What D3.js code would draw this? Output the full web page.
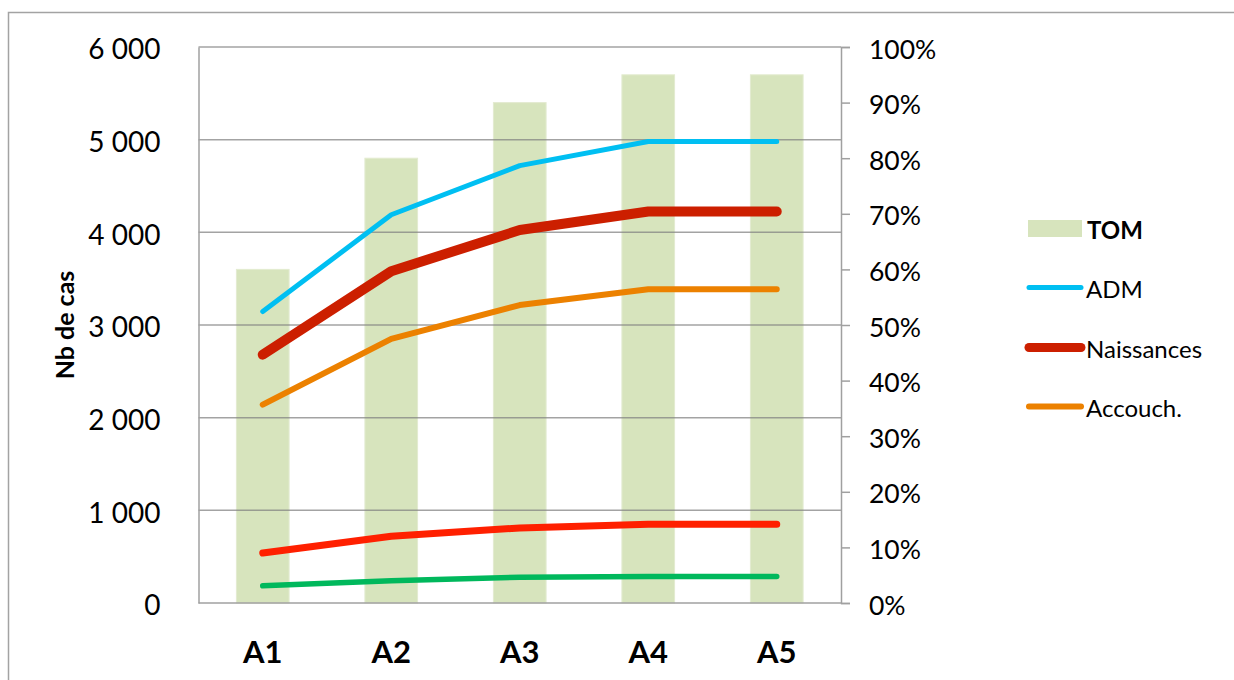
<!DOCTYPE html>
<html>
<head>
<meta charset="utf-8">
<script src="https://cdn.jsdelivr.net/npm/d3@7/dist/d3.min.js"></script>
<style>
  html, body { margin: 0; padding: 0; background: #fff; }
  svg { display: block; font-family: Lato, "Open Sans", sans-serif; }
</style>
</head>
<body>
<svg id="chart" width="1234" height="680"></svg>
<script>
// Categories and series
const categories = ["A1", "A2", "A3", "A4", "A5"];
const tomValues = [3600, 4800, 5400, 5700, 5700];
const admValues = [3145, 4190, 4720, 4980, 4980];
const naissancesValues = [2680, 3580, 4025, 4225, 4225];
const accouchValues = [2140, 2850, 3215, 3385, 3385];
const redValues = [540, 720, 810, 850, 850];
const greenValues = [185, 240, 278, 285, 285];

const leftTicks = [0, 1000, 2000, 3000, 4000, 5000, 6000];
const rightTicks = [0, 0.1, 0.2, 0.3, 0.4, 0.5, 0.6, 0.7, 0.8, 0.9, 1.0];

const lineSeries = [
  { name: "Vert", values: greenValues, color: "#00b85c", width: 5.5, legend: false },
  { name: "Rouge", values: redValues, color: "#ff2000", width: 7, legend: false },
  { name: "Accouch.", values: accouchValues, color: "#ec8100", width: 6, legend: true },
  { name: "Naissances", values: naissancesValues, color: "#cc1f00", width: 10, legend: true },
  { name: "ADM", values: admValues, color: "#00bff2", width: 5, legend: true }
];

const svg = d3.select("#chart");

const plot = { left: 198.5, right: 841, top: 47, bottom: 603 };

const x = d3.scaleBand().domain(categories).range([plot.left, plot.right]).paddingInner(0.59).paddingOuter(0.295);
const xc = d => x(d) + x.bandwidth() / 2;
const y = d3.scaleLinear().domain([0, 6000]).range([plot.bottom, plot.top]);
const y2 = d3.scaleLinear().domain([0, 1]).range([plot.bottom, plot.top]);

// Outer chart frame
svg.append("rect")
  .attr("x", 8.5).attr("y", 12.5)
  .attr("width", 1300).attr("height", 700)
  .attr("fill", "none").attr("stroke", "#a3a3a3").attr("stroke-width", 1.5);

// Bars (TOM)
svg.append("g").selectAll("rect")
  .data(categories.map((c, i) => ({ c, v: tomValues[i] })))
  .join("rect")
  .attr("x", d => x(d.c))
  .attr("y", d => y(d.v))
  .attr("width", x.bandwidth())
  .attr("height", d => y(0) - y(d.v))
  .attr("fill", "#d7e4bd")
  .attr("stroke", "#e3ebd0")
  .attr("stroke-width", 1);

// Horizontal gridlines
svg.append("g").selectAll("line")
  .data(leftTicks.slice(1))
  .join("line")
  .attr("x1", plot.left).attr("x2", plot.right)
  .attr("y1", d => y(d)).attr("y2", d => y(d))
  .attr("stroke", "#808080").attr("stroke-opacity", 0.72).attr("stroke-width", 1.5);

// Left axis (labels only)
const leftAxis = svg.append("g")
  .attr("transform", `translate(${plot.left},0)`)
  .call(d3.axisLeft(y).tickValues(leftTicks).tickSize(0).tickPadding(38)
    .tickFormat(d => d3.format(",")(d).replace(/,/g, " ")));
leftAxis.select(".domain").attr("stroke", "#a0a0a0").attr("stroke-width", 1.5);
leftAxis.selectAll("text")
  .attr("font-family", "Lato, sans-serif").attr("font-size", 28).attr("fill", "#000").attr("dy", "0.42em");

// Bottom axis line
svg.append("line")
  .attr("x1", plot.left).attr("x2", plot.right)
  .attr("y1", plot.bottom).attr("y2", plot.bottom)
  .attr("stroke", "#a0a0a0").attr("stroke-width", 1.5);

// Category labels
svg.append("g").selectAll("text")
  .data(categories)
  .join("text")
  .attr("x", d => xc(d))
  .attr("y", 663)
  .attr("text-anchor", "middle")
  .attr("font-weight", "bold")
  .attr("font-size", 31)
  .text(d => d);

// Right axis
const rightAxis = svg.append("g")
  .attr("transform", `translate(${plot.right},0)`)
  .call(d3.axisRight(y2).tickValues(rightTicks).tickSize(9).tickPadding(19)
    .tickFormat(d => Math.round(d * 100) + "%"));
rightAxis.select(".domain").attr("stroke", "#a0a0a0").attr("stroke-width", 1.5);
rightAxis.selectAll(".tick line").attr("stroke", "#a0a0a0").attr("stroke-width", 1.5);
rightAxis.selectAll("text")
  .attr("font-family", "Lato, sans-serif").attr("font-size", 26.5).attr("fill", "#000").attr("dy", "0.42em");

// Lines
const line = d3.line().x((d, i) => xc(categories[i])).y(d => y(d));
svg.append("g").selectAll("path")
  .data(lineSeries)
  .join("path")
  .attr("d", d => line(d.values))
  .attr("fill", "none")
  .attr("stroke", d => d.color)
  .attr("stroke-width", d => d.width)
  .attr("stroke-linecap", "round")
  .attr("stroke-linejoin", "round");

// Y axis title
svg.append("text")
  .attr("transform", "translate(74,325) rotate(-90)")
  .attr("text-anchor", "middle")
  .attr("font-weight", "bold")
  .attr("font-size", 25)
  .text("Nb de cas");

// Legend
const legend = svg.append("g").attr("font-size", 24);
legend.append("rect")
  .attr("x", 1028).attr("y", 220).attr("width", 54).attr("height", 17)
  .attr("fill", "#d7e4bd");
legend.append("text").attr("x", 1087).attr("y", 239).attr("font-weight", "bold").text("TOM");

const legendItems = [
  { s: lineSeries[4], y: 287.5, ty: 298 },
  { s: lineSeries[3], y: 347.5, ty: 358 },
  { s: lineSeries[2], y: 406.5, ty: 417 }
];
legendItems.forEach(it => {
  legend.append("line")
    .attr("x1", 1029).attr("x2", 1081)
    .attr("y1", it.y).attr("y2", it.y)
    .attr("stroke", it.s.color)
    .attr("stroke-width", Math.min(it.s.width, 9))
    .attr("stroke-linecap", "round");
  legend.append("text").attr("x", 1086).attr("y", it.ty).text(it.s.name);
});
</script>
</body>
</html>
